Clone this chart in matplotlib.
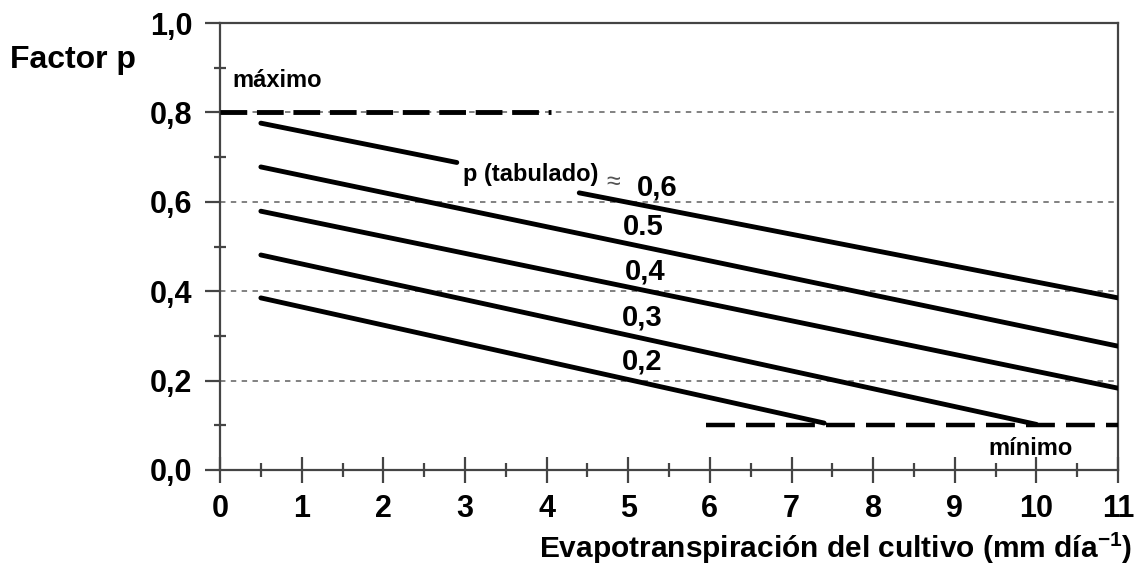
import matplotlib
matplotlib.use("Agg")
import matplotlib.pyplot as plt
from matplotlib.ticker import MultipleLocator, FixedFormatter, FixedLocator

plt.rcParams['font.family'] = ['Liberation Sans', 'DejaVu Sans']
plt.rcParams['mathtext.fontset'] = 'custom'
plt.rcParams['mathtext.bf'] = 'Liberation Sans:bold'
plt.rcParams['mathtext.rm'] = 'Liberation Sans:bold'

# p-factor lines (ET in mm/day, p)
et_tab_a = [0.5, 2.9]
p_tab_a = [0.776, 0.688]
et_06 = [4.4, 11.0]
p_06 = [0.62, 0.385]
et_05 = [0.5, 11.0]
p_05 = [0.678, 0.277]
et_04 = [0.5, 11.0]
p_04 = [0.579, 0.183]
et_03 = [0.5, 10.0]
p_03 = [0.481, 0.102]
et_02 = [0.5, 7.4]
p_02 = [0.385, 0.105]

# limits
et_max = [0.0, 4.05]
p_max = [0.8, 0.8]
et_min = [5.95, 11.0]
p_min = [0.1, 0.1]

line_labels = ['0,6', '0.5', '0,4', '0,3', '0,2']
label_x = [5.36, 5.18, 5.21, 5.17, 5.17]
label_y = [0.633, 0.544, 0.443, 0.342, 0.242]

y_ticks = [0.0, 0.2, 0.4, 0.6, 0.8, 1.0]
y_ticklabels = ['0,0', '0,2', '0,4', '0,6', '0,8', '1,0']
x_ticks = list(range(0, 12))

fig = plt.figure(figsize=(11.39, 5.73), dpi=100)
ax = fig.add_axes([0.1932, 0.1798, 0.7884, 0.7800])
ax.set_xlim(0, 11)
ax.set_ylim(0, 1.0)

# horizontal dashed grid
for yv in [0.2, 0.4, 0.6, 0.8]:
    ax.axhline(yv, color='#777777', lw=1.3, dashes=(3, 3), zorder=1)

lw = 3.5
for xs, ys in [(et_tab_a, p_tab_a), (et_06, p_06), (et_05, p_05),
               (et_04, p_04), (et_03, p_03), (et_02, p_02)]:
    ax.plot(xs, ys, color='black', lw=lw, solid_capstyle='round', zorder=3)

ax.plot(et_max, p_max, color='black', lw=3.5, dashes=(5.5, 2), zorder=3,
        clip_on=False)
ax.plot(et_min, p_min, color='black', lw=3.2, dashes=(6.5, 2.5), zorder=3,
        clip_on=False)

for txt, xv, yv in zip(line_labels, label_x, label_y):
    ax.text(xv, yv, txt, fontsize=21, fontweight='bold', ha='center',
            va='center', zorder=4)

ax.text(3.81, 0.662, 'p (tabulado)', fontsize=17, ha='center', va='center',
        fontweight='semibold')
ax.text(4.82, 0.645, '≈', fontsize=18, ha='center', va='center', color='#555555')
ax.text(0.15, 0.872, 'máximo', fontsize=17, ha='left', va='center',
        fontweight='semibold')
ax.text(9.93, 0.049, 'mínimo', fontsize=17, ha='center', va='center',
        fontweight='semibold')

# axes styling
for side in ['left', 'bottom', 'top', 'right']:
    ax.spines[side].set_color('#444444')
    ax.spines[side].set_linewidth(1.6)

ax.xaxis.set_major_locator(FixedLocator(x_ticks))
ax.xaxis.set_minor_locator(MultipleLocator(0.5))
ax.yaxis.set_major_locator(FixedLocator(y_ticks))
ax.yaxis.set_major_formatter(FixedFormatter(y_ticklabels))
ax.yaxis.set_minor_locator(MultipleLocator(0.1))

ax.tick_params(axis='x', which='major', direction='inout', length=19, width=1.6,
               color='#444444', labelsize=22, pad=8)
ax.tick_params(axis='x', which='minor', direction='inout', length=10, width=1.6,
               color='#444444')
ax.tick_params(axis='y', which='major', direction='out', length=11, width=1.6,
               color='#444444', labelsize=22, pad=9)
ax.tick_params(axis='y', which='minor', direction='inout', length=8, width=1.6,
               color='#444444')
for lab in ax.get_xticklabels() + ax.get_yticklabels():
    lab.set_fontweight('bold')

fig.text(10 / 1139, 1 - 60 / 573, 'Factor p', fontsize=23, fontweight='bold',
         ha='left', va='center')
fig.text(1132 / 1139, 1 - 548 / 573,
         r'Evapotranspiración del cultivo (mm día$^{-1}$)', fontsize=21.5,
         fontweight='bold', ha='right', va='center')

fig.savefig('out.png', dpi=100)
